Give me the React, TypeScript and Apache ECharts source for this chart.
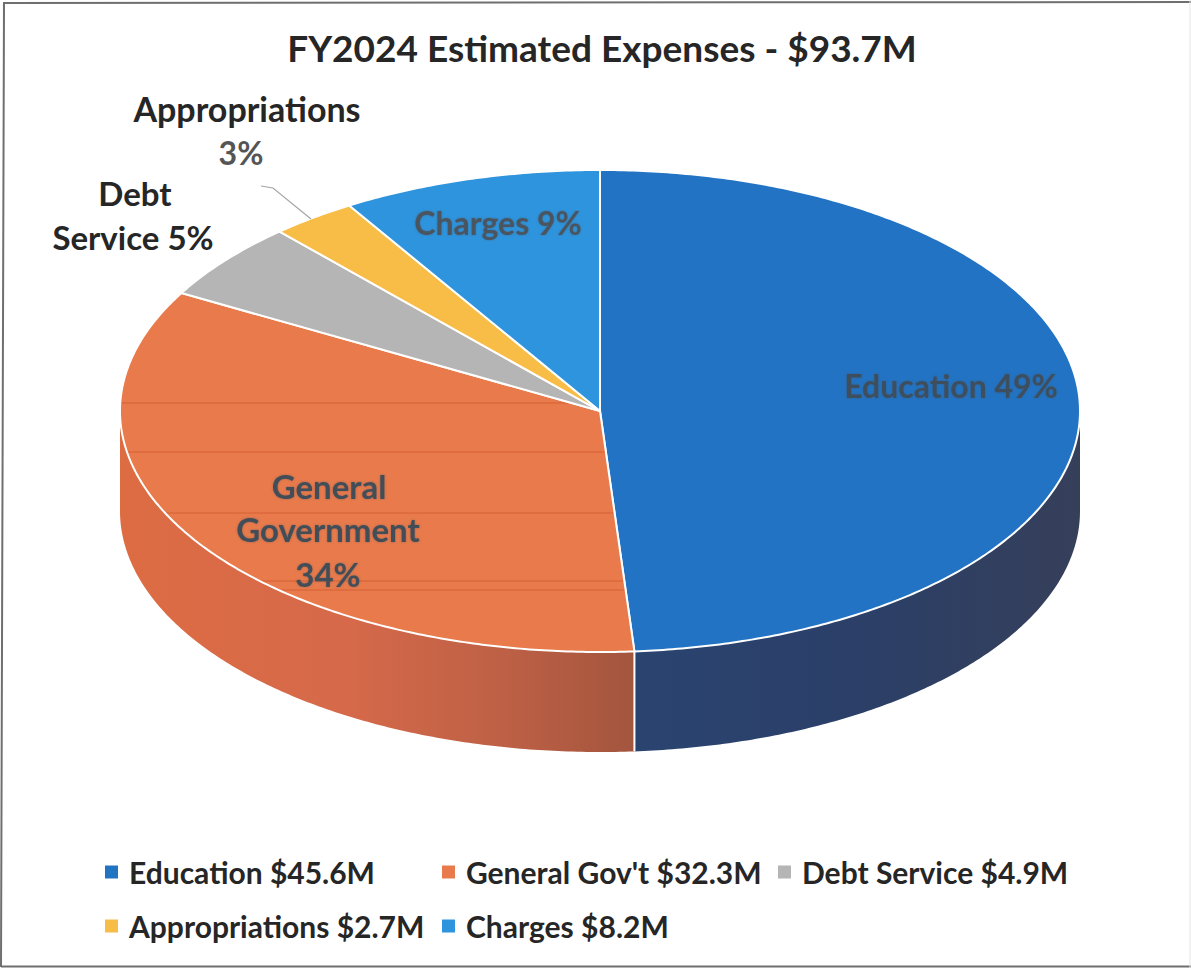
import React, { useEffect, useRef } from "react";
import * as echarts from "echarts";

const titleText = "FY2024 Estimated Expenses - $93.7M";
const categories = ["Education", "General Gov't", "Debt Service", "Appropriations", "Charges"];
const valuesM = [45.6, 32.3, 4.9, 2.7, 8.2];
const legendLabels = categories.map((c, i) => `${c} $${valuesM[i].toFixed(1)}M`);
const topColors = ["#2273c3", "#e87a4b", "#b5b5b5", "#f8bd47", "#2e94dd"];

const W = 1191;
const H = 968;
const CX = 600;
const CY = 411;
const RX = 480;
const RY = 241;
const DEPTH = 100;
const FONT = "Lato, Carlito, 'Open Sans', sans-serif";

const total = valuesM.reduce((a, b) => a + b, 0);
const cum: number[] = [0];
valuesM.forEach((v, i) => cum.push(cum[i] + v));
// slight perspective shift of the tilted pie, strongest at its front edge
const PERSPECTIVE = (0.7 * Math.PI) / 180;
const angleOf = (v: number) => {
  const a = (v / total) * Math.PI * 2;
  return a + PERSPECTIVE * Math.pow((1 - Math.cos(a)) / 2, 8);
};
const pt = (a: number, dy = 0): [number, number] => [
  CX + RX * Math.sin(a),
  CY - RY * Math.cos(a) + dy,
];

function arcPoints(a0: number, a1: number, dy = 0) {
  const n = Math.max(2, Math.ceil(Math.abs(a1 - a0) / 0.01));
  const out: [number, number][] = [];
  for (let i = 0; i <= n; i++) out.push(pt(a0 + ((a1 - a0) * i) / n, dy));
  return out;
}

// scan streaks that run across the orange slice
const streakYs = [403, 452, 513, 581, 590];
function streakFill() {
  const top = 280;
  const bottom = 660;
  const stops: { offset: number; color: string }[] = [{ offset: 0, color: "#e87a4b" }];
  streakYs.forEach((y) => {
    const o = (y - top) / (bottom - top);
    stops.push({ offset: o - 0.004, color: "#e87a4b" });
    stops.push({ offset: o, color: "#d9663a" });
    stops.push({ offset: o + 0.004, color: "#e87a4b" });
  });
  stops.push({ offset: 1, color: "#e87a4b" });
  return { type: "linear", x: 0, y: top, x2: 0, y2: bottom, global: true, colorStops: stops };
}

const wallFills: Record<number, any> = {
  0: {
    type: "linear", x: 635, y: 0, x2: 1080, y2: 0, global: true,
    colorStops: [
      { offset: 0, color: "#2a4470" },
      { offset: 0.5, color: "#2b3f68" },
      { offset: 1, color: "#363f5a" },
    ],
  },
  1: {
    type: "linear", x: 120, y: 0, x2: 635, y2: 0, global: true,
    colorStops: [
      { offset: 0, color: "#dd6c43" },
      { offset: 0.45, color: "#d5694a" },
      { offset: 0.75, color: "#bd6045" },
      { offset: 1, color: "#a3553e" },
    ],
  },
};

function makeSeries(i: number) {
  const a0 = angleOf(cum[i]);
  const a1 = angleOf(cum[i + 1]);
  return {
    type: "custom",
    name: legendLabels[i],
    coordinateSystem: "none",
    silent: true,
    z: 2,
    itemStyle: { color: topColors[i] },
    data: [[valuesM[i]]],
    renderItem: () => {
      const children: any[] = [];
      const w0 = Math.max(a0, Math.PI / 2);
      const w1 = Math.min(a1, (Math.PI * 3) / 2);
      if (w1 > w0) {
        const upper = arcPoints(w0, w1);
        const lower = arcPoints(w1, w0, DEPTH);
        children.push({
          type: "polygon",
          shape: { points: [...upper, ...lower] },
          style: { fill: wallFills[i] || topColors[i], stroke: null },
        });
      }
      children.push({
        type: "polygon",
        shape: { points: [[CX, CY], ...arcPoints(a0, a1)] },
        style: {
          fill: i === 1 ? streakFill() : topColors[i],
          stroke: "#ffffff",
          lineWidth: 2,
          lineJoin: "round",
        },
      });
      return { type: "group", children };
    },
  };
}

// white seam on the wall between Education and General Gov't
const seamAngle = angleOf(cum[1]);

function label(text: string, x: number, y: number, size: number, fill: string, blur = 0) {
  return {
    type: "text",
    x,
    y,
    z: 10,
    silent: true,
    style: {
      text,
      fill,
      font: `bold ${size}px ${FONT}`,
      align: "center",
      verticalAlign: "middle",
      textShadowColor: blur ? "rgba(70,80,90,0.5)" : undefined,
      textShadowBlur: blur,
    } as any,
  };
}

function frameLine(points: number[][], stroke: string, lineWidth: number) {
  return {
    type: "polyline",
    silent: true,
    z: 1,
    shape: { points },
    style: { stroke, lineWidth, fill: "none" },
  };
}

function legendColumn(names: string[], left: number, top: number) {
  return {
    orient: "vertical",
    left,
    top,
    data: names,
    icon: "rect",
    itemWidth: 13,
    itemHeight: 13,
    itemGap: 24,
    selectedMode: false,
    textStyle: {
      color: "#262626",
      fontFamily: FONT,
      fontWeight: "bold",
      fontSize: 30,
      padding: [0, 0, 0, 6],
    },
  };
}

export default function App() {
  const ref = useRef<HTMLDivElement>(null);
  useEffect(() => {
    if (!ref.current) return;
    const chart = echarts.init(ref.current, undefined, { renderer: "svg" });
    const seamTop = pt(seamAngle);
    chart.setOption({
      animation: false,
      backgroundColor: "#ffffff",
      title: {
        text: titleText,
        left: 597,
        top: 24,
        textAlign: "center",
        textStyle: { color: "#262626", fontFamily: FONT, fontWeight: "bold", fontSize: 37 },
      },
      legend: [
        legendColumn([legendLabels[0], legendLabels[3]], 100, 852),
        legendColumn([legendLabels[1], legendLabels[4]], 437, 852),
        legendColumn([legendLabels[2]], 773, 852),
      ],
      series: valuesM.map((_, i) => makeSeries(i)),
      graphic: {
        elements: [
          frameLine([[1, 967], [4, 3], [1191, 2]], "#6f6f6f", 2),
          frameLine([[1, 966.5], [1191, 966.5]], "#6f6f6f", 2),
          frameLine([[1190, 0], [1190, 968]], "#e4e4e4", 1),
          {
            type: "line",
            silent: true,
            z: 5,
            shape: { x1: seamTop[0], y1: seamTop[1], x2: seamTop[0], y2: seamTop[1] + DEPTH },
            style: { stroke: "#ffffff", lineWidth: 2 },
          },
          {
            type: "polyline",
            silent: true,
            z: 5,
            shape: { points: [[261, 186], [273, 188], [311, 219]] },
            style: { stroke: "#a6a6a6", lineWidth: 1.2, fill: "none" },
          },
          label("Appropriations", 247, 108, 34, "#262626"),
          label("3%", 241, 152, 32, "#555555"),
          label("Debt", 135, 193, 33, "#262626"),
          label("Service 5%", 133, 237, 33, "#262626"),
          label("Charges 9%", 498, 222, 32, "#4a5560", 2),
          label("Education 49%", 951, 385, 32, "#3d4f5f", 2),
          label("General", 329, 486, 33, "#434e58", 2),
          label("Government", 328, 529, 33, "#434e58", 2),
          label("34%", 328, 574, 33, "#434e58", 2),
        ],
      },
    });
    return () => chart.dispose();
  }, []);
  return (
    <div
      ref={ref}
      style={{ position: "fixed", left: 0, top: 0, width: W, height: H, background: "#fff" }}
    />
  );
}
